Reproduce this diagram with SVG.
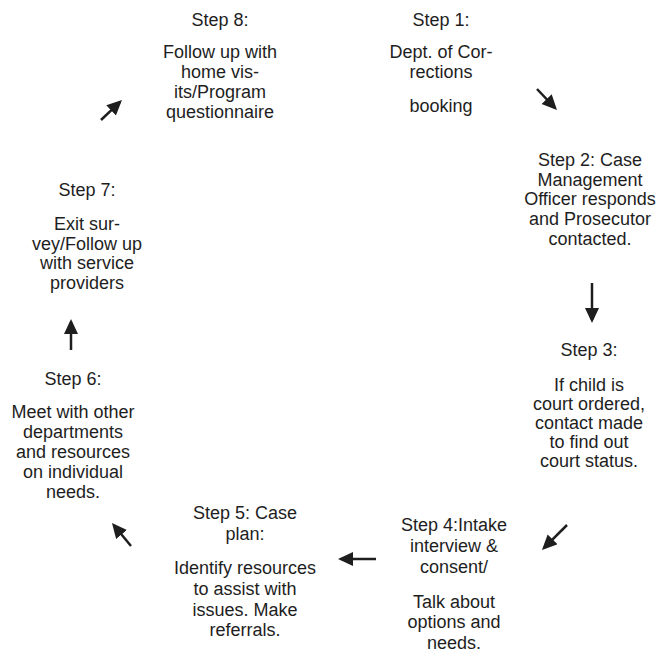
<svg xmlns="http://www.w3.org/2000/svg" width="657" height="652" viewBox="0 0 657 652">
<defs>
<style>
text{font-family:"Liberation Sans",Arial,sans-serif;font-size:18px;fill:#1e1e1e;text-anchor:middle}
.c line{stroke:#1e1e1e;stroke-width:2.5;fill:none}
</style>
<marker id="ah" markerUnits="userSpaceOnUse" markerWidth="16" markerHeight="15" refX="12" refY="7" orient="auto">
<path d="M0,0 L15,7 L0,14 z" fill="#1e1e1e"/>
</marker>
</defs>
<rect width="657" height="652" fill="#fff"/>
<g id="step8">
<text x="220" y="26">Step 8:</text>
<text x="220" y="58">Follow up with</text>
<text x="220" y="78">home vis-</text>
<text x="220" y="98">its/Program</text>
<text x="220" y="118">questionnaire</text>
</g>
<g id="step1">
<text x="441" y="26">Step 1:</text>
<text x="441" y="58">Dept. of Cor-</text>
<text x="441" y="78">rections</text>
<text x="441" y="112">booking</text>
</g>
<g id="step2">
<text x="590" y="166">Step 2: Case</text>
<text x="590" y="186">Management</text>
<text x="590" y="205">Officer responds</text>
<text x="590" y="225">and Prosecutor</text>
<text x="590" y="245">contacted.</text>
</g>
<g id="step3">
<text x="589" y="356">Step 3:</text>
<text x="589" y="391">If child is</text>
<text x="589" y="410">court ordered,</text>
<text x="589" y="429">contact made</text>
<text x="589" y="448">to find out</text>
<text x="589" y="467">court status.</text>
</g>
<g id="step4">
<text x="454" y="531">Step 4:Intake</text>
<text x="454" y="552">interview &amp;</text>
<text x="454" y="573">consent/</text>
<text x="454" y="608">Talk about</text>
<text x="454" y="628">options and</text>
<text x="454" y="649">needs.</text>
</g>
<g id="step5">
<text x="245" y="519">Step 5: Case</text>
<text x="245" y="540">plan:</text>
<text x="245" y="574">Identify resources</text>
<text x="245" y="595">to assist with</text>
<text x="245" y="616">issues. Make</text>
<text x="245" y="636">referrals.</text>
</g>
<g id="step6">
<text x="73" y="385">Step 6:</text>
<text x="73" y="418">Meet with other</text>
<text x="73" y="438">departments</text>
<text x="73" y="458">and resources</text>
<text x="73" y="478">on individual</text>
<text x="73" y="498">needs.</text>
</g>
<g id="step7">
<text x="87" y="196">Step 7:</text>
<text x="87" y="230">Exit sur-</text>
<text x="87" y="250">vey/Follow up</text>
<text x="87" y="269">with service</text>
<text x="87" y="289">providers</text>
</g>
<g id="connectors" class="c">
<line x1="101" y1="120" x2="119.8" y2="102.1" marker-end="url(#ah)"/>
<line x1="537" y1="89" x2="554.9" y2="107.8" marker-end="url(#ah)"/>
<line x1="592" y1="283" x2="592" y2="320" marker-end="url(#ah)"/>
<line x1="567" y1="525" x2="544.1" y2="547.9" marker-end="url(#ah)"/>
<line x1="376" y1="559" x2="341" y2="559" marker-end="url(#ah)"/>
<line x1="131" y1="546" x2="113.9" y2="525.3" marker-end="url(#ah)"/>
<line x1="71" y1="350" x2="71" y2="322" marker-end="url(#ah)"/>
</g>
</svg>
